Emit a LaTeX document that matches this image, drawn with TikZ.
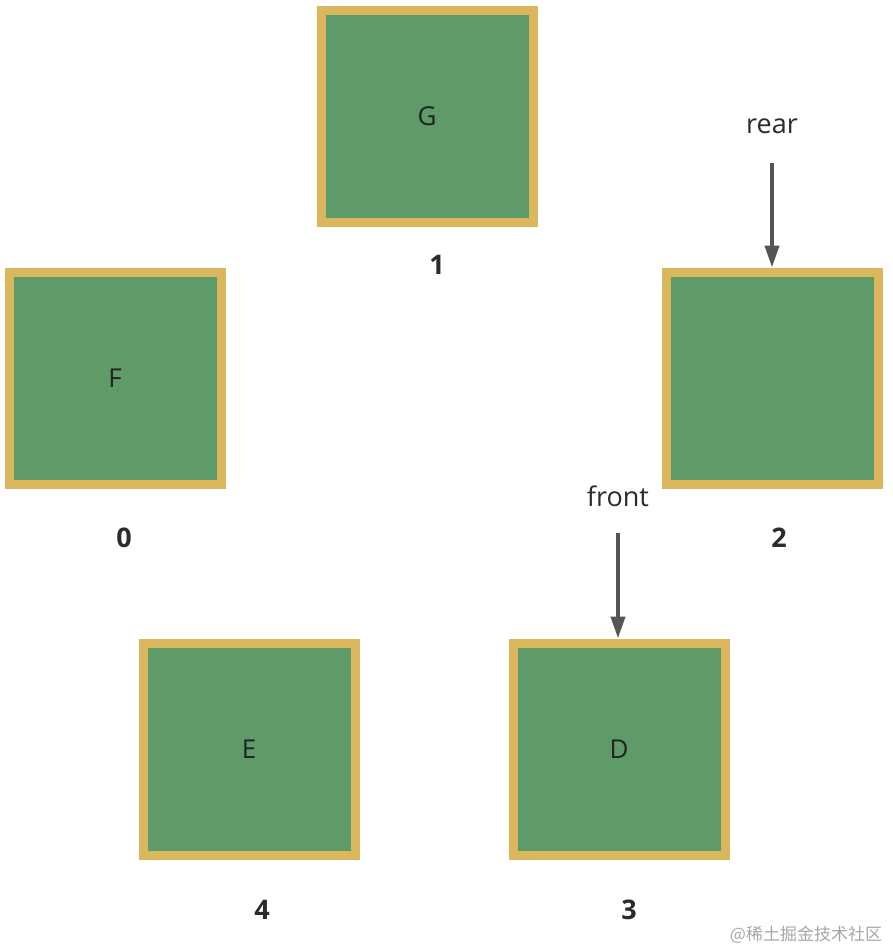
\documentclass[tikz,border=0pt]{standalone}
\usepackage{fontspec}
\setmainfont{Open Sans}
\newfontfamily\cjk{Noto Sans CJK SC}
\usetikzlibrary{arrows.meta,positioning}
\definecolor{verdeCaja}{HTML}{5E9B69}
\definecolor{doradoBorde}{HTML}{DAB65C}
\definecolor{grisFlecha}{HTML}{555555}
\definecolor{grisTexto}{HTML}{2B2B2B}

\begin{document}
\begin{tikzpicture}[x=1pt,y=-1pt,>={Triangle[width=14pt,length=22pt]}]
  \tikzset{
    caja/.style={draw=doradoBorde,fill=verdeCaja,line width=9pt,
      minimum size=212pt,inner sep=0pt,font=\fontsize{26}{30}\selectfont,
      text=grisTexto!80!black},
    indice/.style={font=\fontsize{27}{30}\selectfont\bfseries,text=grisTexto},
    puntero/.style={font=\fontsize{27}{30}\selectfont,text=grisTexto},
    flecha/.style={->,grisFlecha,line width=4pt}
  }
  \useasboundingbox (0,0) rectangle (893,951);
  \node[caja] (cG) at (427,116) {G};
  \node[caja] (cF) at (115,378) {F};
  \node[caja] (c2) at (772,378) {};
  \node[caja] (cE) at (249,749) {E};
  \node[caja] (cD) at (619,749) {D};
  \node[indice] (i1) at (437,265) {1};
  \node[indice] (i0) at (124,538) {0};
  \node[indice] (i2) at (779,538) {2};
  \node[indice] (i4) at (262,910) {4};
  \node[indice] (i3) at (629,910) {3};
  \node[puntero] (rear) at (772,126) {rear};
  \node[puntero] (front) at (618,496) {front};
  \coordinate (rearIni) at (772,163);
  \coordinate (frontIni) at (618,533);
  \draw[flecha] (rearIni) -- (rearIni |- c2.north);
  \draw[flecha] (frontIni) -- (frontIni |- cD.north);
  \node[font=\cjk\fontsize{17}{20}\selectfont,text=gray!70] (marca) at (806,935)
    {@稀土掘金技术社区};
\end{tikzpicture}
\end{document}
